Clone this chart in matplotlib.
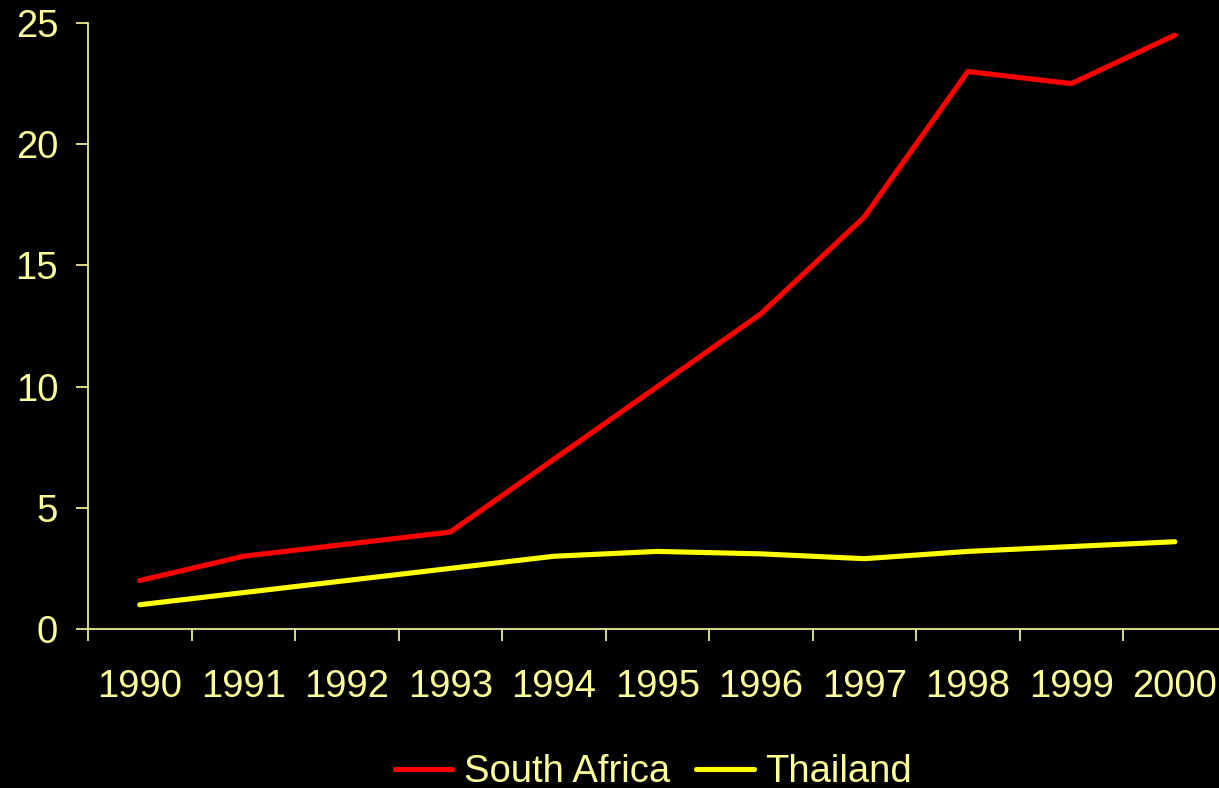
import numpy as np
import matplotlib
matplotlib.use('Agg')
import matplotlib.pyplot as plt
from matplotlib.ticker import FixedLocator

# --- datos ---
years = ['1990', '1991', '1992', '1993', '1994', '1995', '1996', '1997', '1998', '1999', '2000']
south_africa = [2.0, 3.0, 3.5, 4.0, 7.0, 10.0, 13.0, 17.0, 23.0, 22.5, 24.5]
thailand = [1.0, 1.5, 2.0, 2.5, 3.0, 3.2, 3.1, 2.9, 3.2, 3.4, 3.6]

txt_color = '#FFFF99'
fs = 27.5
plt.rcParams['font.family'] = ['Liberation Sans', 'DejaVu Sans']

fig = plt.figure(figsize=(12.19, 7.88), dpi=100, facecolor='black')
ax = fig.add_axes([0.0722, 0.2018, 0.934, 0.769], facecolor='black')

x = np.arange(len(years))
ax.plot(x, south_africa, color='#FF0000', lw=3.7, label='South Africa', solid_capstyle='round')
ax.plot(x, thailand, color='#FFFF00', lw=3.7, label='Thailand', solid_capstyle='round')

ax.set_xlim(-0.5, len(years) - 0.5)
ax.set_ylim(0, 25)
ax.set_yticks([0, 5, 10, 15, 20, 25])

# etiquetas centradas, marcas entre categorías
ax.set_xticks(x)
ax.set_xticklabels(years)
ax.xaxis.set_minor_locator(FixedLocator(np.arange(-0.5, len(years), 1.0)))
ax.tick_params(axis='x', which='major', length=0, pad=29, labelsize=fs, labelcolor=txt_color)
ax.tick_params(axis='x', which='minor', length=8.5, width=1.2, color=txt_color, direction='out')
ax.tick_params(axis='y', length=8.5, width=1.2, color=txt_color, pad=13, labelsize=fs, labelcolor=txt_color)

for s in ['top', 'right']:
    ax.spines[s].set_visible(False)
for s in ['left', 'bottom']:
    ax.spines[s].set_color(txt_color)
    ax.spines[s].set_linewidth(1.2)

leg = fig.legend(loc='center', bbox_to_anchor=(0.536, 0.02), ncol=2, frameon=False,
                 fontsize=fs, handlelength=1.5, handletextpad=0.3, columnspacing=0.7)
for t in leg.get_texts():
    t.set_color(txt_color)

fig.savefig('out.png', dpi=100, facecolor='black')
